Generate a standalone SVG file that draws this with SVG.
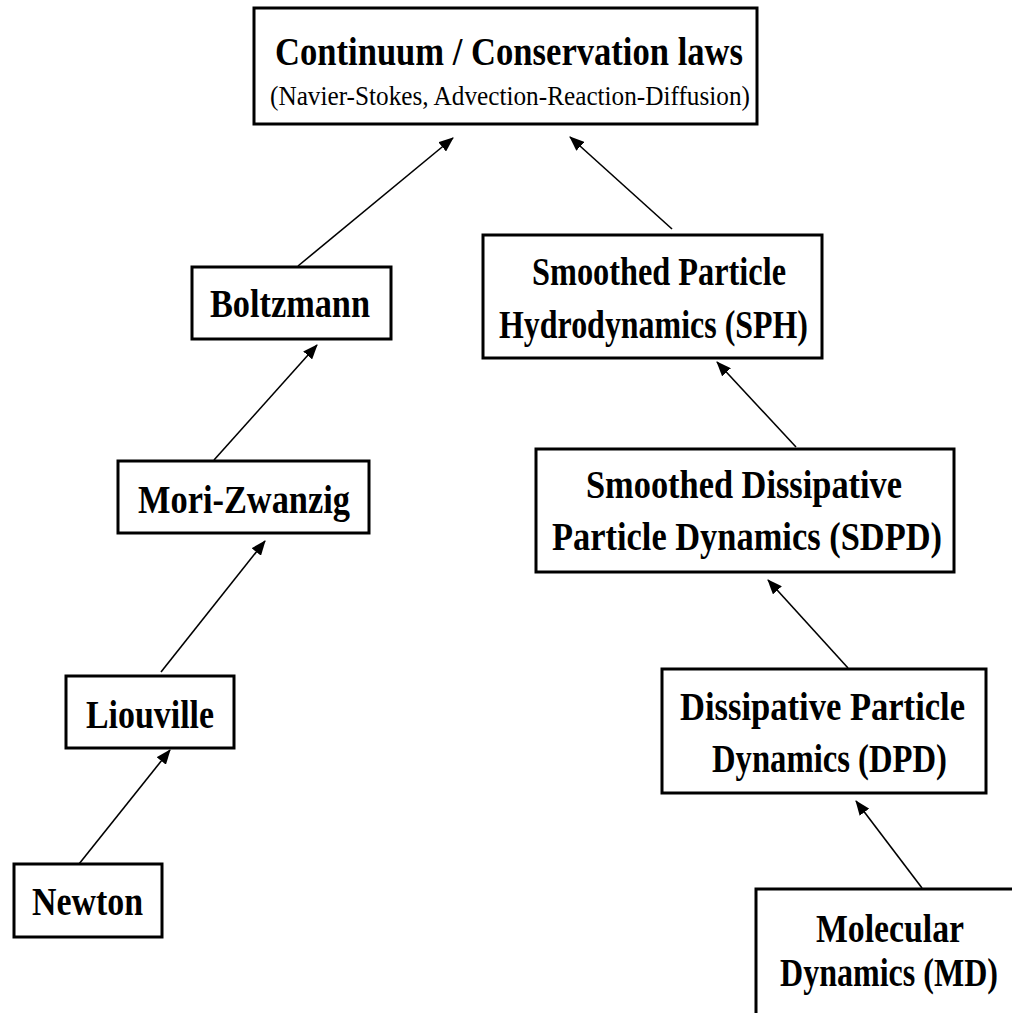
<svg xmlns="http://www.w3.org/2000/svg" width="1012" height="1013" viewBox="0 0 1012 1013">
  <style>
    .box { fill: #fff; stroke: #000; stroke-width: 3; }
    .lbl { font-family: "Liberation Serif", "Times New Roman", serif; font-weight: bold; font-size: 40px; fill: #000; }
    .sub { font-family: "Liberation Serif", "Times New Roman", serif; font-size: 27px; fill: #000; }
    .edge { stroke: #000; stroke-width: 1.6; fill: none; marker-end: url(#head); }
  </style>
  <defs>
    <marker id="head" markerUnits="userSpaceOnUse" markerWidth="16" markerHeight="12" refX="14" refY="6" orient="auto">
      <path d="M0,0 L15,6 L0,12 Z" fill="#000"/>
    </marker>
  </defs>
  <rect width="1012" height="1013" fill="#fff"/>

  <g id="connectors">
    <line class="edge" x1="298" y1="266" x2="453" y2="138"/>
    <line class="edge" x1="672" y1="229" x2="570" y2="137"/>
    <line class="edge" x1="214" y1="460" x2="317" y2="345"/>
    <line class="edge" x1="161" y1="672" x2="265" y2="541"/>
    <line class="edge" x1="79" y1="864" x2="170" y2="750"/>
    <line class="edge" x1="796" y1="447" x2="717" y2="362"/>
    <line class="edge" x1="848" y1="668" x2="768" y2="580"/>
    <line class="edge" x1="922" y1="888" x2="856" y2="801"/>
  </g>

  <g id="continuum">
    <rect class="box" x="254" y="8" width="503" height="116"/>
    <text class="lbl" x="275" y="65" textLength="468" lengthAdjust="spacingAndGlyphs">Continuum / Conservation laws</text>
    <text class="sub" x="270" y="105" textLength="480" lengthAdjust="spacingAndGlyphs">(Navier-Stokes, Advection-Reaction-Diffusion)</text>
  </g>

  <g id="boltzmann">
    <rect class="box" x="192" y="267" width="199" height="72"/>
    <text class="lbl" x="210" y="317" textLength="160" lengthAdjust="spacingAndGlyphs">Boltzmann</text>
  </g>

  <g id="mori-zwanzig">
    <rect class="box" x="118" y="461" width="251" height="72"/>
    <text class="lbl" x="138" y="513" textLength="212" lengthAdjust="spacingAndGlyphs">Mori-Zwanzig</text>
  </g>

  <g id="liouville">
    <rect class="box" x="66" y="676" width="168" height="72"/>
    <text class="lbl" x="86" y="728" textLength="128" lengthAdjust="spacingAndGlyphs">Liouville</text>
  </g>

  <g id="newton">
    <rect class="box" x="14" y="864" width="148" height="73"/>
    <text class="lbl" x="32" y="915" textLength="111" lengthAdjust="spacingAndGlyphs">Newton</text>
  </g>

  <g id="sph">
    <rect class="box" x="483" y="235" width="339" height="123"/>
    <text class="lbl" x="532" y="285" textLength="254" lengthAdjust="spacingAndGlyphs">Smoothed Particle</text>
    <text class="lbl" x="499" y="338" textLength="309" lengthAdjust="spacingAndGlyphs">Hydrodynamics (SPH)</text>
  </g>

  <g id="sdpd">
    <rect class="box" x="536" y="449" width="418" height="123"/>
    <text class="lbl" x="586" y="498" textLength="316" lengthAdjust="spacingAndGlyphs">Smoothed Dissipative</text>
    <text class="lbl" x="552" y="550" textLength="390" lengthAdjust="spacingAndGlyphs">Particle Dynamics (SDPD)</text>
  </g>

  <g id="dpd">
    <rect class="box" x="662" y="669" width="324" height="124"/>
    <text class="lbl" x="680" y="720" textLength="285" lengthAdjust="spacingAndGlyphs">Dissipative Particle</text>
    <text class="lbl" x="712" y="772" textLength="235" lengthAdjust="spacingAndGlyphs">Dynamics (DPD)</text>
  </g>

  <g id="md">
    <rect class="box" x="756" y="889" width="270" height="140"/>
    <text class="lbl" x="816" y="942" textLength="148" lengthAdjust="spacingAndGlyphs">Molecular</text>
    <text class="lbl" x="780" y="986" textLength="218" lengthAdjust="spacingAndGlyphs">Dynamics (MD)</text>
  </g>
</svg>
